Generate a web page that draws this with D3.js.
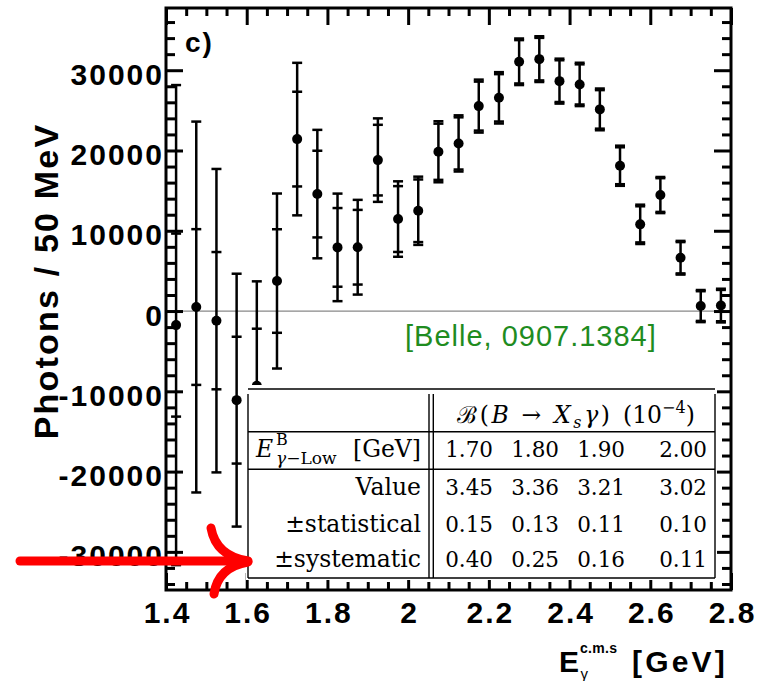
<!DOCTYPE html>
<html>
<head>
<meta charset="utf-8">
<script src="https://cdn.jsdelivr.net/npm/d3@7"></script>
<style>
  html, body { margin: 0; padding: 0; background: #fff; }
  svg { display: block; }
</style>
</head>
<body>
<svg id="chart" width="772" height="681"></svg>
<script>
// ---------------- DATA ----------------
const energy = [1.425, 1.475, 1.525, 1.575, 1.625, 1.675, 1.725, 1.775, 1.825, 1.875,
                1.925, 1.975, 2.025, 2.075, 2.125, 2.175, 2.225, 2.275, 2.325, 2.375,
                2.425, 2.475, 2.525, 2.575, 2.625, 2.675, 2.725, 2.775];
const photons = [-1750, 500, -1200, -11100, -9300, 3740, 21420, 14570, 7930, 7950,
                 18800, 11460, 12490, 19840, 20880, 25530, 26560, 31050, 31380, 28640,
                 28230, 25120, 18100, 10800, 14450, 6640, 620, 680];
const totalErr = [29900, 23100, 18900, 15750, 13000, 10900, 9500, 8000, 6700, 5900,
                  5200, 4700, 4250, 3800, 3500, 3300, 3200, 2900, 2850, 2800,
                  2700, 2600, 2500, 2450, 2250, 2100, 2000, 2100];
const statErr = [11400, 9700, 8550, 7900, 7100, 6450, 5900, 5400, 4900, 4650,
                 4400, 4100, 3900, 3500, 3250, 3050, 2950, 2700, 2650, 2600,
                 2500, 2400, 2300, 2250, 2100, 1950, 1850, 1950];

const xTicks = [1.4, 1.6, 1.8, 2.0, 2.2, 2.4, 2.6, 2.8];
const xTickLabels = ["1.4", "1.6", "1.8", "2", "2.2", "2.4", "2.6", "2.8"];
const yTicks = [-30000, -20000, -10000, 0, 10000, 20000, 30000];
const yTickLabels = ["-30000", "-20000", "-10000", "0", "10000", "20000", "30000"];

const tableCutoffs = ["1.70", "1.80", "1.90", "2.00"];
const tableValue = ["3.45", "3.36", "3.21", "3.02"];
const tableStat = ["0.15", "0.13", "0.11", "0.10"];
const tableSyst = ["0.40", "0.25", "0.16", "0.11"];

// ---------------- LAYOUT ----------------
const L = 166, R = 731, T = 8, B = 590;
const svg = d3.select("#chart");
const x = d3.scaleLinear().domain([1.4, 2.8]).range([L, R]);
const y = d3.scaleLinear().domain([-34750, 37750]).range([B, T]);

const sansBold = "'Liberation Sans', Arial, Helvetica, sans-serif";
const serif = "'DejaVu Serif', 'Liberation Serif', serif";

const xMinor = d3.range(1.4, 2.8001, 0.05).filter(v => !xTicks.some(t => Math.abs(t - v) < 1e-6));
const yMinor = d3.range(-34000, 37001, 2000).filter(v => !yTicks.includes(v));

function styleAxis(g) {
  g.select(".domain").remove();
  g.selectAll("line").attr("stroke", "#000").attr("stroke-width", 3);
}

// zero line
svg.append("line").attr("x1", L).attr("x2", R).attr("y1", y(0)).attr("y2", y(0))
  .attr("stroke", "#888").attr("stroke-width", 1.2);

// axes: bottom
svg.append("g").attr("transform", `translate(0,${B})`)
  .call(d3.axisBottom(x).tickValues(xTicks).tickSize(-17).tickFormat((d, i) => xTickLabels[i]))
  .call(styleAxis)
  .call(g => g.selectAll("text").attr("y", 33).attr("dy", 0).attr("dx", 1)
    .attr("font-family", sansBold).attr("font-weight", "bold").attr("font-size", 30)
    .attr("letter-spacing", 2).attr("fill", "#000"));
svg.append("g").attr("transform", `translate(0,${B})`)
  .call(d3.axisBottom(x).tickValues(xMinor).tickSize(-8).tickFormat(""))
  .call(styleAxis);
// top
svg.append("g").attr("transform", `translate(0,${T})`)
  .call(d3.axisTop(x).tickValues(xTicks).tickSize(-17).tickFormat(""))
  .call(styleAxis);
svg.append("g").attr("transform", `translate(0,${T})`)
  .call(d3.axisTop(x).tickValues(xMinor).tickSize(-8).tickFormat(""))
  .call(styleAxis);
// left
svg.append("g").attr("transform", `translate(${L},0)`)
  .call(d3.axisLeft(y).tickValues(yTicks).tickSize(-17).tickFormat((d, i) => yTickLabels[i]))
  .call(styleAxis)
  .call(g => g.selectAll("text").attr("x", -2).attr("dy", 14)
    .attr("font-family", sansBold).attr("font-weight", "bold").attr("font-size", 30)
    .attr("letter-spacing", 2).attr("fill", "#000"));
svg.append("g").attr("transform", `translate(${L},0)`)
  .call(d3.axisLeft(y).tickValues(yMinor).tickSize(-9).tickFormat(""))
  .call(styleAxis);
// right
svg.append("g").attr("transform", `translate(${R},0)`)
  .call(d3.axisRight(y).tickValues(yTicks).tickSize(-17).tickFormat(""))
  .call(styleAxis);
svg.append("g").attr("transform", `translate(${R},0)`)
  .call(d3.axisRight(y).tickValues(yMinor).tickSize(-9).tickFormat(""))
  .call(styleAxis);

// ---------------- DATA MARKS ----------------
svg.append("defs").append("clipPath").attr("id", "plotclip")
  .append("rect").attr("x", L).attr("y", T).attr("width", R - L).attr("height", B - T);

const pts = energy.map((e, i) => ({ e, v: photons[i], tot: totalErr[i], st: statErr[i] }));
const gData = svg.append("g").attr("clip-path", "url(#plotclip)");
const capW = 5;
const eb = gData.selectAll("g.pt").data(pts).join("g").attr("class", "pt");
eb.append("line")
  .attr("x1", d => x(d.e)).attr("x2", d => x(d.e))
  .attr("y1", d => y(d.v + d.tot)).attr("y2", d => y(d.v - d.tot))
  .attr("stroke", "#000").attr("stroke-width", 2.5);
[["tot", 1], ["tot", -1], ["st", 1], ["st", -1]].forEach(([k, s]) => {
  eb.append("line")
    .attr("x1", d => x(d.e) - capW).attr("x2", d => x(d.e) + capW)
    .attr("y1", d => y(d.v + s * d[k])).attr("y2", d => y(d.v + s * d[k]))
    .attr("stroke", "#000").attr("stroke-width", 2.5);
});
eb.append("circle").attr("cx", d => x(d.e)).attr("cy", d => y(d.v)).attr("r", 5).attr("fill", "#000");

// frame
svg.append("rect").attr("x", L).attr("y", T).attr("width", R - L).attr("height", B - T)
  .attr("fill", "none").attr("stroke", "#000").attr("stroke-width", 3);

// panel label
svg.append("text").attr("x", 185).attr("y", 52).text("c)")
  .attr("font-family", sansBold).attr("font-weight", "bold").attr("font-size", 28)
  .attr("letter-spacing", 2);

// reference label
svg.append("text").attr("x", 405).attr("y", 346).text("[Belle, 0907.1384]")
  .attr("font-family", "'Liberation Sans', Arial, sans-serif").attr("font-size", 29)
  .attr("letter-spacing", 1.0).attr("fill", "#1f8c1f");

// axis titles
svg.append("text")
  .attr("transform", "translate(58,281) rotate(-90)")
  .attr("text-anchor", "middle")
  .attr("font-family", sansBold).attr("font-weight", "bold").attr("font-size", 34)
  .attr("letter-spacing", 2.2)
  .text("Photons / 50 MeV");

const xt = svg.append("g").attr("font-family", sansBold).attr("font-weight", "bold");
xt.append("text").attr("x", 559).attr("y", 672).attr("font-size", 30).attr("letter-spacing", 1).text("E");
xt.append("text").attr("x", 580).attr("y", 653).attr("font-size", 14).attr("letter-spacing", 0.3).text("c.m.s");
xt.append("text").attr("x", 580.5).attr("y", 679).attr("font-size", 15).attr("font-weight", "normal").text("γ");
xt.append("text").attr("x", 632).attr("y", 672).attr("font-size", 30).attr("letter-spacing", 3.2).text("[GeV]");

// ---------------- TABLE ----------------
const tb = svg.append("g");
const tL = 248, tR = 715, tT = 389, tB = 578;
tb.append("rect").attr("x", tL - 2).attr("y", tT - 4).attr("width", tR - tL + 4).attr("height", tB - tT + 6)
  .attr("fill", "#fff");
[tT, 431.7, 469.3, tB].forEach(yy => tb.append("line").attr("x1", tL).attr("x2", tR)
  .attr("y1", yy).attr("y2", yy).attr("stroke", "#000").attr("stroke-width", 1.6));
[tL, 429, 433.3, tR].forEach(xx => tb.append("line").attr("x1", xx).attr("x2", xx)
  .attr("y1", tT + 5).attr("y2", tB).attr("stroke", "#000").attr("stroke-width", 1.4));

const tt = tb.append("g").attr("font-family", serif).attr("font-size", 23.5).attr("fill", "#000");
// header
const hdr = tt.append("text").attr("x", 457).attr("y", 423)
  .attr("textLength", 153).attr("lengthAdjust", "spacing");
hdr.append("tspan").text("ℬ");
hdr.append("tspan").text("(");
hdr.append("tspan").attr("font-style", "italic").text("B");
hdr.append("tspan").text(" → ");
hdr.append("tspan").attr("font-style", "italic").text("X");
hdr.append("tspan").attr("font-style", "italic").attr("font-size", 16).attr("dy", 5).text("s");
hdr.append("tspan").attr("font-style", "italic").attr("dy", -5).text("γ");
hdr.append("tspan").text(")");
const hdr2 = tt.append("text").attr("x", 623).attr("y", 423);
hdr2.append("tspan").text("(10");
hdr2.append("tspan").attr("font-size", 16).attr("dy", -10).text("−4");
hdr2.append("tspan").attr("dy", 10).text(")");

// cutoff row
tt.append("text").attr("x", 256).attr("y", 457).attr("font-style", "italic").text("E");
tt.append("text").attr("x", 276).attr("y", 445).attr("font-size", 16).text("B");
const sub = tt.append("text").attr("x", 276).attr("y", 464).attr("font-size", 17);
sub.append("tspan").attr("font-style", "italic").text("γ");
sub.append("tspan").text("−Low");
tt.append("text").attr("x", 421).attr("y", 457).attr("text-anchor", "end").text("[GeV]");

const colX = [493, 559, 625, 707];
const rows = [
  { label: null, vals: tableCutoffs, yb: 457 },
  { label: "Value", vals: tableValue, yb: 495 },
  { label: "±statistical", vals: tableStat, yb: 531.5 },
  { label: "±systematic", vals: tableSyst, yb: 567 }
];
rows.forEach(r => {
  if (r.label) tt.append("text").attr("x", 421).attr("y", r.yb).attr("text-anchor", "end").text(r.label);
  r.vals.forEach((v, i) => tt.append("text").attr("x", colX[i]).attr("y", r.yb)
    .attr("font-size", 21.5).attr("text-anchor", "end").text(v));
});

// ---------------- RED ARROW ----------------
const ar = svg.append("g").attr("stroke", "#ff0000").attr("stroke-width", 9)
  .attr("stroke-linecap", "round").attr("fill", "none");
ar.append("path").attr("d", "M20,561 L246,561");
ar.append("path").attr("d", "M211,528 Q216,556 248,561");
ar.append("path").attr("d", "M248,562 Q218,567 214,594");
</script>
</body>
</html>
